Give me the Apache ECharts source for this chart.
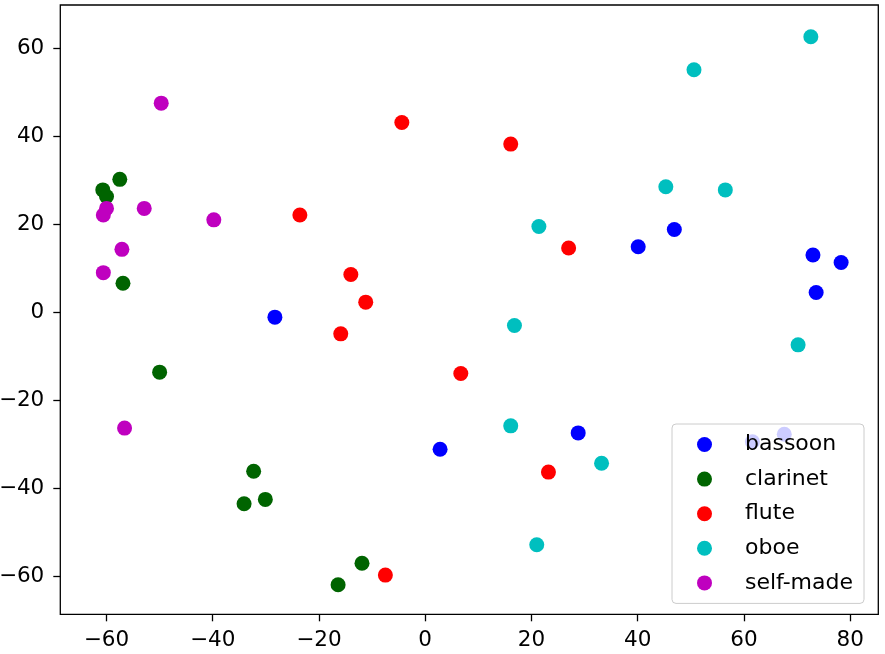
<!DOCTYPE html>
<html>
<head>
<meta charset="utf-8">
<script src="https://cdn.jsdelivr.net/npm/echarts@6/dist/echarts.min.js"></script>
<style>
html,body{margin:0;padding:0;background:#fff;}
#chart{width:885px;height:654px;}
</style>
</head>
<body>
<div id="chart"></div>
<script>
var seriesNames = ['bassoon', 'clarinet', 'flute', 'oboe', 'self-made'];
var bassoon = [[-28.3,-1.1],[2.8,-31.1],[28.8,-27.4],[40.1,14.9],[46.9,18.8],[73.0,13.0],[73.6,4.5],[78.3,11.3],[61.6,-29.4],[67.6,-27.7]];
var clarinet = [[-60.7,27.8],[-60.0,26.3],[-57.5,30.2],[-56.9,6.6],[-50.0,-13.6],[-32.3,-36.1],[-34.1,-43.5],[-30.1,-42.5],[-11.9,-57.0],[-16.4,-61.9]];
var flute = [[-4.4,43.1],[16.1,38.2],[-23.6,22.1],[27.0,14.6],[-14.0,8.6],[-11.2,2.3],[-15.9,-4.9],[6.7,-13.9],[23.2,-36.3],[-7.5,-59.7]];
var oboe = [[72.6,62.6],[50.6,55.1],[45.3,28.5],[56.5,27.8],[21.4,19.5],[16.8,-3.0],[70.2,-7.4],[16.1,-25.8],[33.2,-34.3],[21.0,-52.8]];
var selfMade = [[-49.7,47.5],[-60.6,22.1],[-60.0,23.6],[-52.9,23.6],[-39.8,21.0],[-57.1,14.3],[-60.6,9.0],[-56.6,-26.3]];
var xTicks = [-60,-40,-20,0,20,40,60,80];
var yTicks = [-60,-40,-20,0,20,40,60];
var colors = ['#0000ff', '#006400', '#ff0000', '#00bfbf', '#bf00bf'];
var allData = [bassoon, clarinet, flute, oboe, selfMade];

var fontFam = 'DejaVu Sans';
function fmt(v){ return String(v).replace('-', '\u2212'); }

var chart = echarts.init(document.getElementById('chart'), null, {renderer:'canvas'});
var option = {
  animation: false,
  backgroundColor: '#fff',
  grid: {
    left: 60.3, right: 6.7, top: 5, bottom: 39.7,
    show: true, borderColor: '#000', borderWidth: 1.3,
    outerBoundsMode: 'none'
  },
  xAxis: {
    type: 'value', min: -68.7, max: 85.3,
    axisLine: {show: false, onZero: false},
    splitLine: {show: false},
    axisTick: {show: true, inside: false, length: 7, lineStyle: {color: '#000', width: 1.3}, customValues: xTicks},
    axisLabel: {show: true, margin: 15, color: '#000', fontSize: 21.5, fontFamily: fontFam, customValues: xTicks, formatter: fmt}
  },
  yAxis: {
    type: 'value', min: -68.6, max: 69.8,
    axisLine: {show: false, onZero: false},
    splitLine: {show: false},
    axisTick: {show: true, inside: false, length: 7, lineStyle: {color: '#000', width: 1.3}, customValues: yTicks},
    axisLabel: {show: true, margin: 16, color: '#000', fontSize: 21.5, fontFamily: fontFam, customValues: yTicks, formatter: fmt}
  },
  legend: {
    orient: 'vertical',
    left: 672, top: 424,
    padding: [9.5, 11, 9.5, 25],
    itemWidth: 15, itemHeight: 15,
    itemGap: 12.6,
    icon: 'circle',
    backgroundColor: 'rgba(255,255,255,0.8)',
    borderColor: '#cccccc', borderWidth: 1, borderRadius: 4,
    textStyle: {color: '#000', fontSize: 22, fontFamily: fontFam, lineHeight: 22, padding: [0,0,0,28]},
    data: seriesNames
  },
  series: seriesNames.map(function(n, i){
    return {
      name: n, type: 'scatter', data: allData[i],
      symbol: 'circle', symbolSize: 15,
      itemStyle: {color: colors[i], opacity: 1}
    };
  })
};
chart.setOption(option);
</script>
</body>
</html>
